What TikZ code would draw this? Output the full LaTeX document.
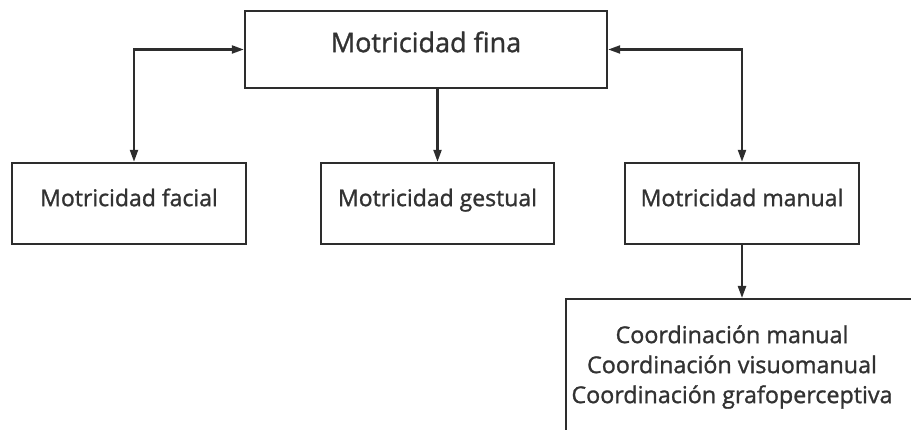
\documentclass[tikz,border=0pt]{standalone}
\usepackage{fontspec}
\setmainfont{Open Sans}[RawFeature={embolden=1.2}]
\usetikzlibrary{arrows.meta, positioning}
\definecolor{linegray}{RGB}{45,45,45}
\definecolor{textgray}{RGB}{50,50,50}
\tikzset{
  caja/.style={draw=linegray, line width=2.4pt, rectangle, text=textgray, inner sep=0pt, text height=0.75em, text depth=0.22em},
  flecha/.style={draw=linegray, line width=2.2pt, -{Triangle[length=12pt,width=8pt]}},
  dobleflecha/.style={draw=linegray, line width=2.2pt, {Triangle[length=12pt,width=8pt]}-{Triangle[length=12pt,width=8pt]}}
}

\begin{document}
\begin{tikzpicture}[x=1pt, y=-1pt]
\useasboundingbox (0,0) rectangle (911,430);

% Nivel superior
\node[caja, minimum width=362pt, minimum height=77pt, font=\fontsize{27}{32}\selectfont] (fina) at (426, 49.5) {Motricidad fina};

% Segundo nivel
\node[caja, minimum width=234pt, minimum height=81pt, font=\fontsize{23}{28}\selectfont] (facial) at (129, 203.5) {Motricidad facial};
\node[caja, minimum width=233pt, minimum height=81pt, font=\fontsize{23}{28}\selectfont] (gestual) at (437.5, 203.5) {Motricidad gestual};
\node[caja, minimum width=234pt, minimum height=81pt, font=\fontsize{23}{28}\selectfont] (manual) at (742, 203.5) {Motricidad manual};

% Tercer nivel (recortado por el borde)
\node[draw=linegray, line width=2.4pt, minimum width=370pt, minimum height=162pt, anchor=north west] (coord) at (565, 298) {};
\node[text=textgray, align=center, font=\fontsize{23.3}{30}\selectfont] (coordtxt) at (732, 367) {Coordinación manual\\Coordinación visuomanual\\Coordinación grafoperceptiva};

% Conectores
\draw[dobleflecha] (fina.west) -| ([xshift=5pt]facial.north);
\draw[flecha] (fina.south -| gestual.north) -- (gestual.north);
\draw[dobleflecha] (fina.east) -| (manual.north);
\draw[flecha] (manual.south) -- (manual.south |- coord.north);
\end{tikzpicture}
\end{document}
